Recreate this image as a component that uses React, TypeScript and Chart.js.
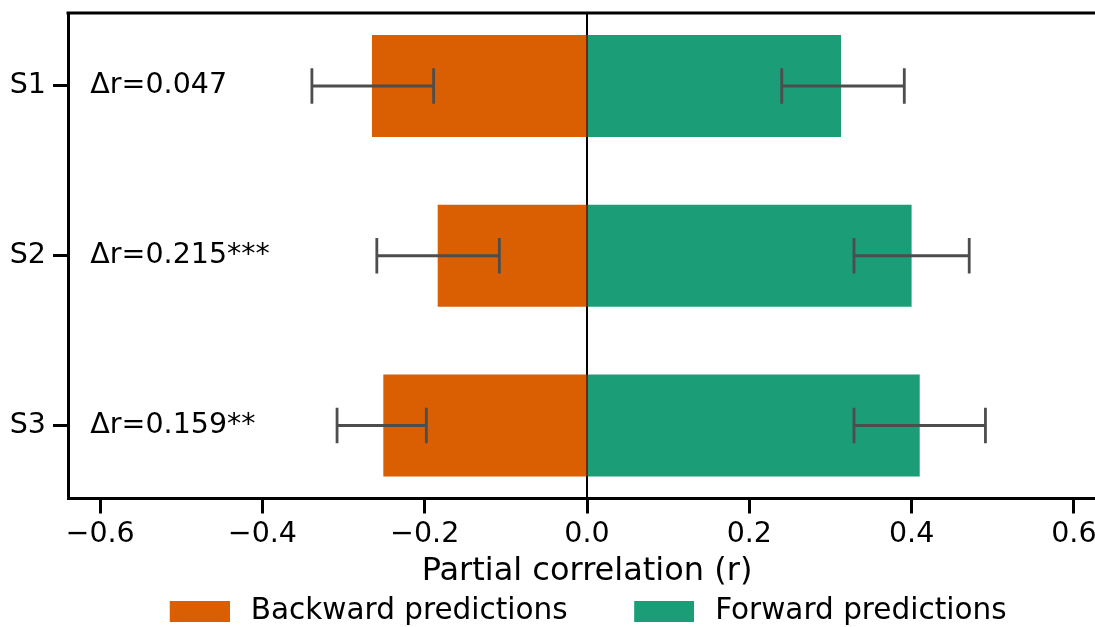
import React, { useEffect, useRef } from 'react';
import { Chart, registerables } from 'chart.js';

Chart.register(...registerables);

// ---------------- data ----------------
const categories = ['S1', 'S2', 'S3'];
const seriesLabels = ['Backward predictions', 'Forward predictions'];
const backward = [-0.265, -0.184, -0.251];
const forward = [0.313, 0.4, 0.41];
const backwardErrLow = [-0.339, -0.259, -0.308];
const backwardErrHigh = [-0.189, -0.108, -0.198];
const forwardErrLow = [0.24, 0.329, 0.329];
const forwardErrHigh = [0.391, 0.471, 0.491];
const annotations = ['Δr=0.047', 'Δr=0.215***', 'Δr=0.159**'];
const xTicks = [-0.6, -0.4, -0.2, 0.0, 0.2, 0.4, 0.6];
const xTitle = 'Partial correlation (r)';

// ---------------- styles ----------------
const colors = ['#d95f02', '#1b9e77'];
const FONT = '"DejaVu Sans", "Liberation Sans", sans-serif';
const X_MIN = -0.63956;
const X_MAX = 0.7061;
const X_TITLE_CENTER = 0; // axis is symmetric (-0.64 .. 0.64) in the original
const Y_MIN = -0.43;
const Y_MAX = 2.43;
const ANNOT_X = -0.612;
const CAP_HALF = 0.105; // in category units

const CANVAS_W = 1160;
const CANVAS_H = 636;

const decorPlugin = {
  id: 'decor',
  beforeDatasetsDraw(chart: any) {
    const { ctx, chartArea, scales } = chart;
    const px = scales.x.getPixelForValue(0);
    ctx.save();
    ctx.strokeStyle = '#000';
    ctx.lineWidth = 2;
    ctx.beginPath();
    ctx.moveTo(px, chartArea.top);
    ctx.lineTo(px, chartArea.bottom);
    ctx.stroke();
    ctx.restore();
  },
  afterDatasetsDraw(chart: any) {
    const { ctx, chartArea, scales } = chart;
    const xs = scales.x;
    const ys = scales.y;
    ctx.save();
    // error bars
    ctx.strokeStyle = '#4d4d4d';
    ctx.lineWidth = 2.8;
    ctx.lineCap = 'butt';
    const errs = [
      [backwardErrLow, backwardErrHigh],
      [forwardErrLow, forwardErrHigh],
    ];
    errs.forEach(([lo, hi]) => {
      categories.forEach((_, i) => {
        const y = ys.getPixelForValue(i);
        const y1 = ys.getPixelForValue(i - CAP_HALF);
        const y2 = ys.getPixelForValue(i + CAP_HALF);
        const x1 = xs.getPixelForValue(lo[i]);
        const x2 = xs.getPixelForValue(hi[i]);
        ctx.beginPath();
        ctx.moveTo(x1, y);
        ctx.lineTo(x2, y);
        ctx.moveTo(x1, y1);
        ctx.lineTo(x1, y2);
        ctx.moveTo(x2, y1);
        ctx.lineTo(x2, y2);
        ctx.stroke();
      });
    });
    // annotations
    ctx.fillStyle = '#000';
    ctx.font = `28.5px ${FONT}`;
    ctx.textAlign = 'left';
    ctx.textBaseline = 'middle';
    annotations.forEach((t, i) => {
      ctx.fillText(t, xs.getPixelForValue(ANNOT_X), ys.getPixelForValue(i));
    });
    // top and right spines
    ctx.strokeStyle = '#000';
    ctx.lineWidth = 3;
    ctx.beginPath();
    ctx.moveTo(chartArea.left - 1.5, chartArea.top);
    ctx.lineTo(chartArea.right, chartArea.top);
    ctx.lineTo(chartArea.right, chartArea.bottom);
    ctx.stroke();
    ctx.restore();
  },
  afterDraw(chart: any) {
    const { ctx, chartArea, scales } = chart;
    ctx.save();
    ctx.fillStyle = '#000';
    ctx.font = `32px ${FONT}`;
    ctx.textAlign = 'center';
    ctx.textBaseline = 'alphabetic';
    ctx.fillText(xTitle, scales.x.getPixelForValue(X_TITLE_CENTER), chartArea.bottom + 81);
    ctx.restore();
  },
};

const fmt = (v: number) => {
  const s = Math.abs(v) < 1e-9 ? '0.0' : v.toFixed(1);
  return s.replace('-', '\u2212');
};

// legend swatch: transparent margin on the left, then a 60x21 coloured patch
const makeSwatch = (color: string) => {
  const c = document.createElement('canvas');
  c.width = 70;
  c.height = 21;
  const g = c.getContext('2d')!;
  g.fillStyle = color;
  g.fillRect(10, 0, 60, 21);
  return c;
};

export default function App() {
  const ref = useRef<HTMLCanvasElement | null>(null);
  useEffect(() => {
    if (!ref.current) return;
    Chart.defaults.font.family = FONT;
    Chart.defaults.color = '#000';
    const swatches = colors.map(makeSwatch);
    const chart = new Chart(ref.current, {
      type: 'bar',
      data: {
        datasets: [
          {
            label: seriesLabels[0],
            data: backward.map((v, i) => ({ x: v, y: i })),
            backgroundColor: colors[0],
            borderWidth: 0,
            grouped: false,
            categoryPercentage: 1,
            barPercentage: 0.6,
          } as any,
          {
            label: seriesLabels[1],
            data: forward.map((v, i) => ({ x: v, y: i })),
            backgroundColor: colors[1],
            borderWidth: 0,
            grouped: false,
            categoryPercentage: 1,
            barPercentage: 0.6,
          } as any,
        ],
      },
      options: {
        indexAxis: 'y',
        responsive: false,
        animation: false,
        devicePixelRatio: 1,
        layout: { padding: { top: 13, left: 0, right: 0, bottom: 0 } },
        scales: {
          x: {
            type: 'linear',
            min: X_MIN,
            max: X_MAX,
            offset: false,
            afterBuildTicks: (s: any) => {
              s.ticks = xTicks.map((v) => ({ value: v }));
            },
            afterFit: (s: any) => {
              s.height = 47.75;
              s.paddingLeft = 0;
              s.paddingRight = 0;
            },
            ticks: {
              callback: (v: any) => fmt(Number(v)),
              font: { size: 28.5 },
              color: '#000',
              padding: 4,
              maxRotation: 0,
              autoSkip: false,
            },
            grid: {
              offset: false,
              drawOnChartArea: false,
              drawTicks: true,
              tickLength: 15,
              tickWidth: 3,
              tickColor: '#000',
            },
            border: { display: true, color: '#000', width: 3 },
            title: { display: false },
          },
          y: {
            type: 'linear',
            reverse: true,
            min: Y_MIN,
            max: Y_MAX,
            offset: false,
            afterBuildTicks: (s: any) => {
              s.ticks = categories.map((_, i) => ({ value: i }));
            },
            afterFit: (s: any) => {
              s.width = 68;
              s.paddingTop = 0;
              s.paddingBottom = 0;
            },
            ticks: {
              callback: (v: any) => categories[Number(v)] ?? '',
              font: { size: 28.5 },
              color: '#000',
              padding: 7,
              autoSkip: false,
            },
            grid: {
              offset: false,
              drawOnChartArea: false,
              drawTicks: true,
              tickLength: 15,
              tickWidth: 3,
              tickColor: '#000',
            },
            border: { display: true, color: '#000', width: 3 },
          },
        },
        plugins: {
          tooltip: { enabled: false },
          legend: {
            display: true,
            position: 'bottom',
            labels: {
              usePointStyle: true,
              pointStyleWidth: 82.5,
              boxHeight: 29.5,
              padding: 50.25,
              color: '#000',
              font: { size: 29.5 },
              generateLabels: (c: any) => {
                const items = (Chart.defaults.plugins.legend.labels as any).generateLabels(c);
                return items.map((it: any, i: number) => ({
                  ...it,
                  pointStyle: swatches[i],
                  rotation: 0,
                  lineWidth: 0,
                }));
              },
            },
          },
        },
      } as any,
      plugins: [decorPlugin],
    });
    return () => chart.destroy();
  }, []);

  return (
    <div
      style={{
        position: 'fixed',
        left: 0,
        top: 0,
        width: 1095,
        height: 627,
        overflow: 'hidden',
        background: '#fff',
      }}
    >
      <canvas
        ref={ref}
        width={CANVAS_W}
        height={CANVAS_H}
        style={{ display: 'block', width: CANVAS_W, height: CANVAS_H }}
      />
    </div>
  );
}
